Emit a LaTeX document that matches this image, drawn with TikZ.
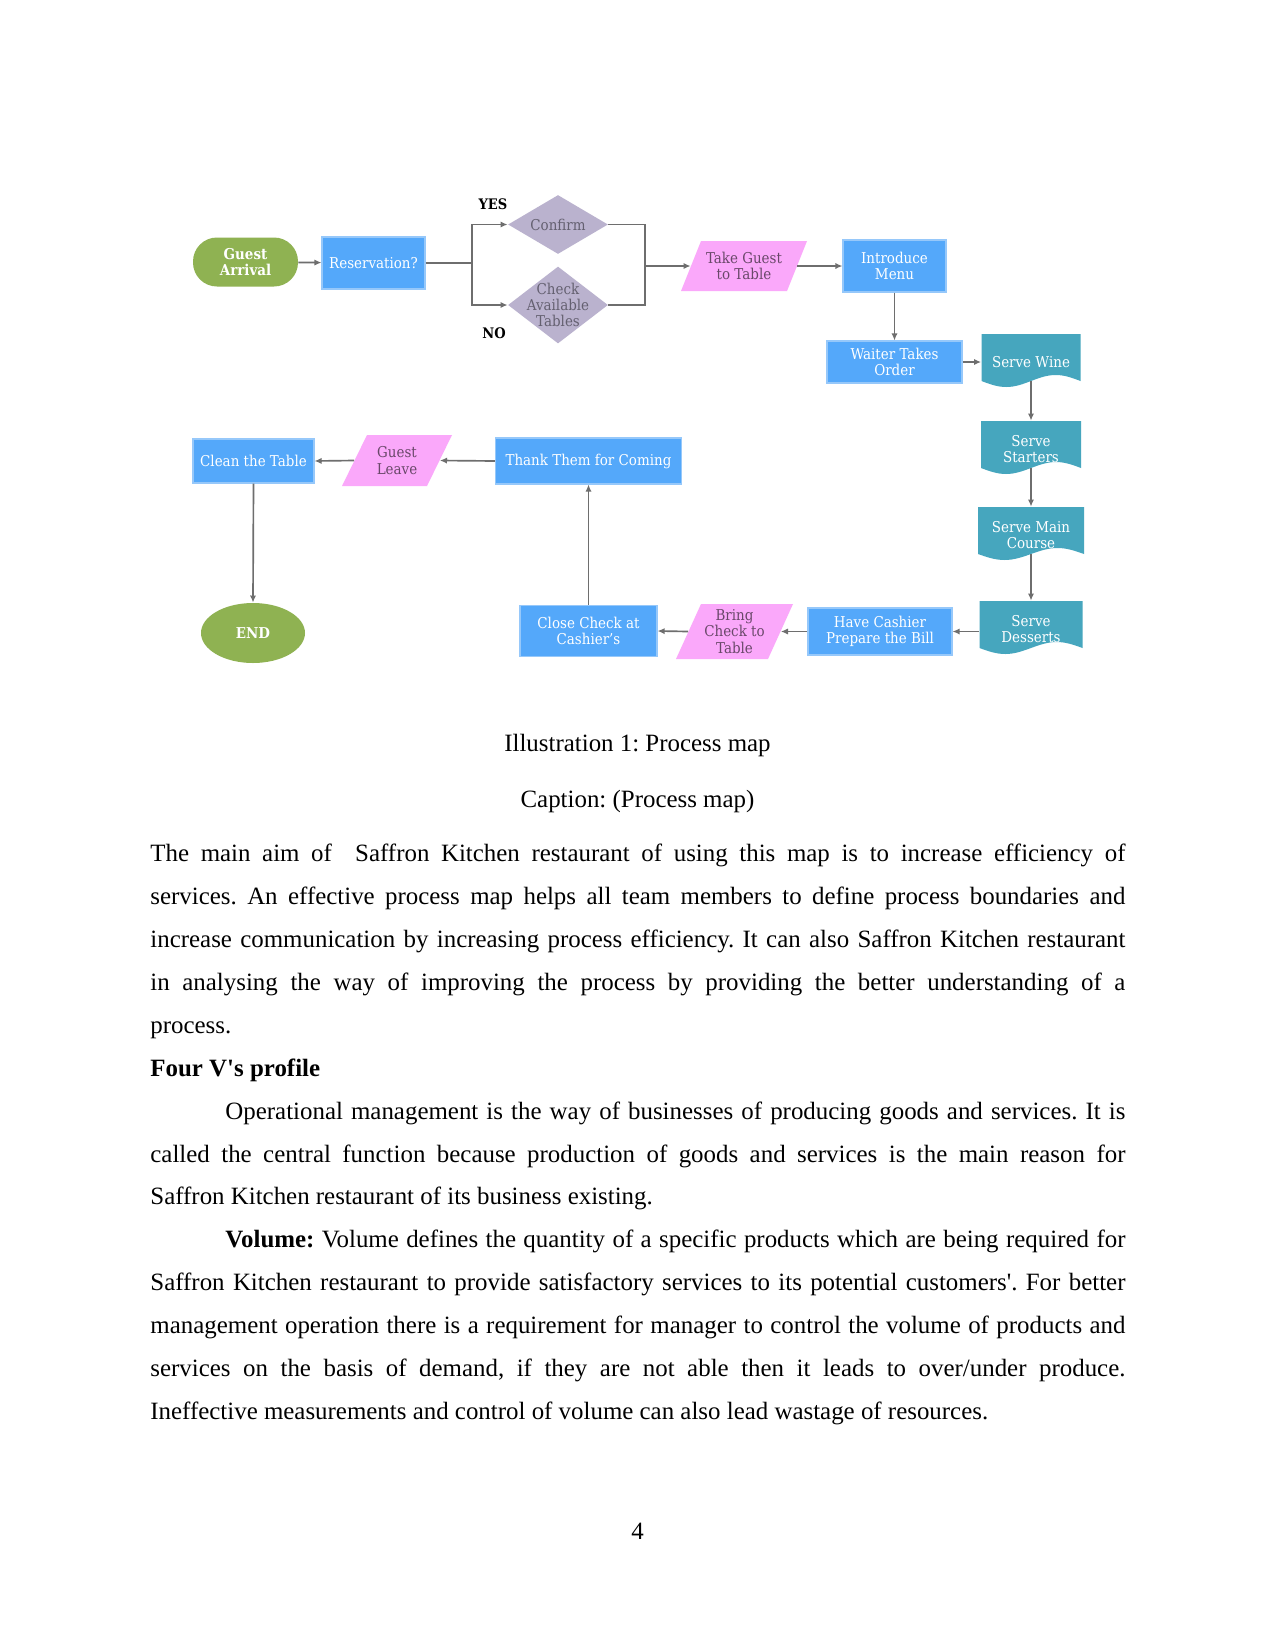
\documentclass[tikz,border=0pt]{standalone}
\usepackage{fontspec}
\setmainfont{Liberation Serif}
\newfontfamily\dfont[FakeStretch=0.9]{DejaVu Serif}
\usetikzlibrary{arrows.meta,shapes.geometric}
\definecolor{gcol}{RGB}{143,178,82}
\definecolor{bcol}{RGB}{84,168,250}
\definecolor{bedge}{RGB}{150,200,250}
\definecolor{pcol}{RGB}{250,168,250}
\definecolor{ptext}{RGB}{105,72,105}
\definecolor{dcol}{RGB}{186,178,206}
\definecolor{dtext}{RGB}{100,96,112}
\definecolor{tcol}{RGB}{70,166,190}
\definecolor{acol}{RGB}{110,110,110}
\tikzset{
  every node/.style={font=\dfont\fontsize{7.2}{7.8}\selectfont, align=center, inner sep=0pt},
  sz/.style 2 args={minimum width=(#1)*0.48bp, minimum height=(#2)*0.48bp},
  bbox/.style={rectangle, fill=bcol, draw=bedge, line width=0.5bp, text=white},
  arr/.style={draw=acol, line width=0.8bp, -{Latex[length=3.4bp,width=3bp]}},
  ln/.style={draw=acol, line width=0.8bp},
  body/.style={font=\rmfamily\fontsize{12}{20.67}\selectfont},
  lbl/.style={font=\dfont\bfseries\fontsize{7}{7.4}\selectfont, text=black}
}
% document shape: name, cx, top, width, text
\newcommand\docnode[5]{%
  \fill[tcol] ({#2-#4/2},#3) -- ({#2+#4/2},#3) -- ({#2+#4/2},{#3+47})
    sin ({#2+#4/4},{#3+41}) cos (#2,{#3+47}) sin ({#2-#4/4},{#3+53}) cos ({#2-#4/2},{#3+47}) -- cycle;
  \node[text=white, sz={#4}{56}] (#1) at (#2,{#3+28}) {#5};
  \coordinate (#1-b) at (#2,{#3+47});
}
% parallelogram: name, cx, cy, w, h, slant, text
\newcommand\paranode[7]{%
  \fill[pcol] ({#2-#4/2},{#3+#5/2}) -- ({#2+#4/2-#6},{#3+#5/2}) -- ({#2+#4/2},{#3-#5/2}) -- ({#2-#4/2+#6},{#3-#5/2}) -- cycle;
  \node[text=ptext, sz={#4-#6}{#5}] (#1) at (#2,#3) {#7};
}
\newcommand\myjl[1]{\hbox to 468bp{#1}}
\newcommand\myll[1]{\hbox to 468bp{#1\hfil}}
\begin{document}
\frenchspacing
\begin{tikzpicture}[x=0.48bp, y=-0.48bp]
\useasboundingbox (0,0) rectangle (1275,1651);
\fill[white] (0,0) rectangle (1275,1651);

% ---- row 1
\node[rectangle, rounded corners=11.5bp, fill=gcol, text=white, sz={105}{49},
      font=\dfont\bfseries\fontsize{7.2}{7.6}\selectfont] (ga) at (245.5,262) {Guest\\Arrival};
\node[bbox, sz={103}{52}] (res) at (373.5,263) {Reservation?};
\node[diamond, fill=dcol, sz={100}{59}] (confirm) at (558,224.5) {};
\node[text=dtext] at (confirm) {Confirm};
\node[diamond, fill=dcol, sz={100}{77}] (check) at (558,305) {};
\node[text=dtext] at (check) {Check\\Available\\Tables};
\node[lbl] (yes) at (493,204) {YES};
\node[lbl] (no) at (494,333) {NO};
\paranode{take}{744}{266}{126}{50}{20}{Take Guest\\to Table}
\node[bbox, sz={103}{52}] (intro) at (894.5,266) {Introduce\\Menu};
\node[bbox, sz={135}{42}] (waiter) at (894.5,362) {Waiter Takes\\Order};

% ---- documents
\docnode{wine}{1031}{334}{99}{Serve Wine}
\docnode{starters}{1031}{421}{100}{Serve\\Starters}
\docnode{main}{1031}{507}{106}{Serve Main\\Course}
\docnode{desserts}{1031}{601}{103}{Serve\\Desserts}

% ---- bottom row
\node[bbox, sz={144}{47}] (cashier) at (880,631.5) {Have Cashier\\Prepare the Bill};
\paranode{bring}{734.5}{631.5}{117}{55}{25}{Bring\\Check to\\Table}
\node[bbox, sz={137}{51}] (close) at (588.5,631) {Close Check at\\Cashier’s};
\node[bbox, sz={186}{46}] (thank) at (588.5,461) {Thank Them for Coming};
\paranode{leave}{397}{460.5}{110}{51}{25}{Guest\\Leave}
\node[bbox, sz={121}{44}] (clean) at (253.5,461) {Clean the Table};
\node[ellipse, fill=gcol, text=white, sz={104}{60},
      font=\dfont\bfseries\fontsize{7.2}{7.6}\selectfont] (end) at (253,633) {END};

% ---- connectors
\coordinate (j1) at (472,263);
\coordinate (j2) at (645,266);
\coordinate (j2b) at (645,305);
\draw[arr] (ga) -- (res);
\draw[ln] (res.east) -- (j1);
\draw[arr] (j1) |- (confirm.west);
\draw[arr] (j1) |- (check.west);
\draw[ln] (confirm.east) -| (j2b) -- (check.east);
\draw[arr] (j2) -- (take.west);
\draw[arr] (take.east) -- (intro.west);
\draw[arr] (intro.south) -- (waiter.north);
\draw[arr] (waiter.east) -- (waiter.east -| wine.west);
\draw[arr] (wine-b) -- (starters.north);
\draw[arr] (starters-b) -- (main.north);
\draw[arr] (main-b) -- (desserts.north);
\draw[arr] (desserts.west |- cashier.east) -- (cashier.east);
\draw[arr] (cashier.west) -- (bring.east);
\draw[arr] (bring.west) -- (close.east);
\draw[arr] (close.north) -- (thank.south);
\draw[arr] (thank.west) -- (leave.east);
\draw[arr] (leave.west) -- (clean.east);
\draw[arr] (clean.south) -- (end.north);

% ---- captions and body text
\node[body, anchor=base] (ill) at (637.5,751.7) {Illustration 1: Process map};
\node[body, anchor=base] (cap) at (637.5,807) {Caption: (Process map)};
\node[body, anchor=base west, text width=468bp, align=justify] (txt) at (150,861.7) {%
\frenchspacing\spaceskip=0pt \xspaceskip=0pt
\myjl{The main aim of\ \ Saffron Kitchen restaurant of using this map is to increase efficiency of}
\myjl{services. An effective process map helps all team members to define process boundaries and}
\myjl{increase communication by increasing process efficiency. It can also Saffron Kitchen restaurant}
\myjl{in analysing the way of improving the process by providing the better understanding of a}
\myll{process.}
\myll{\textbf{Four V\textquotesingle s profile}}
\myjl{\hskip 36bp Operational management is the way of businesses of producing goods and services. It is}
\myjl{called the central function because production of goods and services is the main reason for}
\myll{Saffron Kitchen restaurant of its business existing.}
\myjl{\hskip 36bp\textbf{Volume:} Volume defines the quantity of a specific products which are being required for}
\myjl{Saffron Kitchen restaurant to provide satisfactory services to its potential customers\textquotesingle. For better}
\myjl{management operation there is a requirement for manager to control the volume of products and}
\myjl{services on the basis of demand, if they are not able then it leads to over/under produce.}
\myll{Ineffective measurements and control of volume can also lead wastage of resources.}%
};
\node[body, anchor=base] (pg) at (637.5,1539) {4};
\end{tikzpicture}
\end{document}
